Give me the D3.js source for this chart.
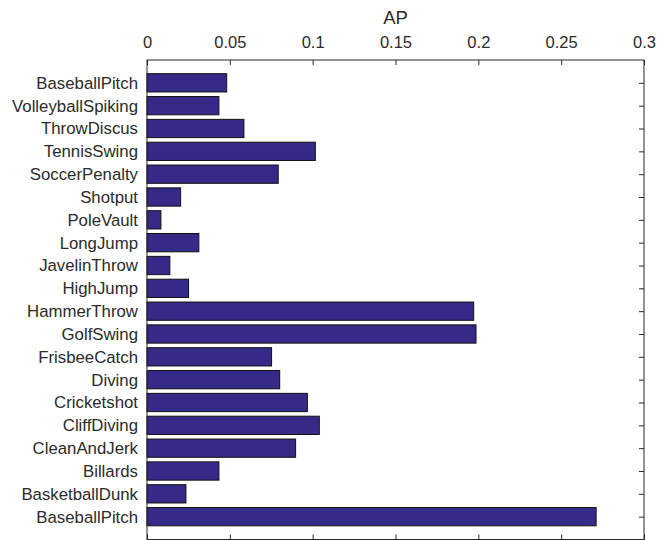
<!DOCTYPE html>
<meta charset="utf-8">
<script src="https://d3js.org/d3.v7.min.js"></script>
<style>
  body { margin: 0; background: #fff; }
  text { font-family: "Liberation Sans", Arial, sans-serif; fill: #2b2b2b; }
</style>
<div id="my_dataviz"></div>
<script>
    // categories, top to bottom
    const categories = ["BaseballPitch", "VolleyballSpiking", "ThrowDiscus", "TennisSwing", "SoccerPenalty",
        "Shotput", "PoleVault", "LongJump", "JavelinThrow", "HighJump", "HammerThrow", "GolfSwing",
        "FrisbeeCatch", "Diving", "Cricketshot", "CliffDiving", "CleanAndJerk", "Billards",
        "BasketballDunk", "BaseballPitch"];
    const apValues = [0.0481, 0.0434, 0.0585, 0.1016, 0.0792, 0.0203, 0.0084, 0.0313, 0.0138, 0.0251,
        0.1972, 0.1986, 0.0752, 0.0801, 0.0968, 0.1040, 0.0897, 0.0434, 0.0235, 0.2711];
    const xTicks = [0, 0.05, 0.1, 0.15, 0.2, 0.25, 0.3];
    const xLabel = "AP";

    const data = categories.map((c, i) => ({ name: c, pos: i + 1, value: apValues[i] }));

    const margin = { top: 60, right: 13, bottom: 0, left: 147 },
        width = 644 - 147,
        height = 539.5 - 60;

    const svg = d3.select("#my_dataviz")
        .append("svg")
        .attr("width", 657)
        .attr("height", 540)
        .append("g")
        .attr("transform", `translate(${margin.left}, ${margin.top})`);

    const x = d3.scaleLinear().domain([0, 0.3]).range([0, width]);
    const y = d3.scaleLinear().domain([0, 21]).range([0, height]);
    const barH = y(0.8) - y(0);

    // bars
    svg.selectAll("rect.bar")
        .data(data)
        .join("rect")
        .attr("class", "bar")
        .attr("x", x(0))
        .attr("y", d => y(d.pos - 0.4))
        .attr("width", d => x(d.value) - x(0))
        .attr("height", barH)
        .attr("fill", "#352a87")
        .attr("stroke", "#111")
        .attr("stroke-width", 1);

    // box
    svg.append("rect")
        .attr("x", 0).attr("y", 0)
        .attr("width", width).attr("height", height)
        .attr("fill", "none")
        .attr("stroke", "#262626")
        .attr("stroke-width", 1);

    // top axis
    const xAxis = svg.append("g")
        .call(d3.axisTop(x).tickValues(xTicks).tickFormat(d => d3.format("~g")(d)).tickSizeInner(-5).tickSizeOuter(0).tickPadding(12));
    xAxis.select(".domain").remove();
    xAxis.selectAll("line").attr("stroke", "#262626");
    xAxis.selectAll("text").attr("font-size", "16.5px").attr("fill", "#2b2b2b");

    // bottom ticks (inside)
    const xAxisB = svg.append("g")
        .attr("transform", `translate(0, ${height})`)
        .call(d3.axisBottom(x).tickValues(xTicks).tickFormat("").tickSizeInner(-5).tickSizeOuter(0));
    xAxisB.select(".domain").remove();
    xAxisB.selectAll("line").attr("stroke", "#262626");

    // left axis labels
    const yAxis = svg.append("g")
        .call(d3.axisLeft(y).tickValues(data.map(d => d.pos))
            .tickFormat((d, i) => categories[i]).tickSizeInner(0).tickSizeOuter(0).tickPadding(9));
    yAxis.select(".domain").remove();
    yAxis.selectAll("text").attr("font-size", "16.8px").attr("fill", "#2b2b2b");

    // right ticks (inside)
    const yAxisR = svg.append("g")
        .attr("transform", `translate(${width}, 0)`)
        .call(d3.axisRight(y).tickValues(data.map(d => d.pos)).tickFormat("").tickSizeInner(-5).tickSizeOuter(0));
    yAxisR.select(".domain").remove();
    yAxisR.selectAll("line").attr("stroke", "#262626");

    // axis title
    svg.append("text")
        .attr("x", width / 2)
        .attr("y", 23.5 - margin.top)
        .attr("text-anchor", "middle")
        .attr("font-size", "18.5px")
        .text(xLabel);
</script>
